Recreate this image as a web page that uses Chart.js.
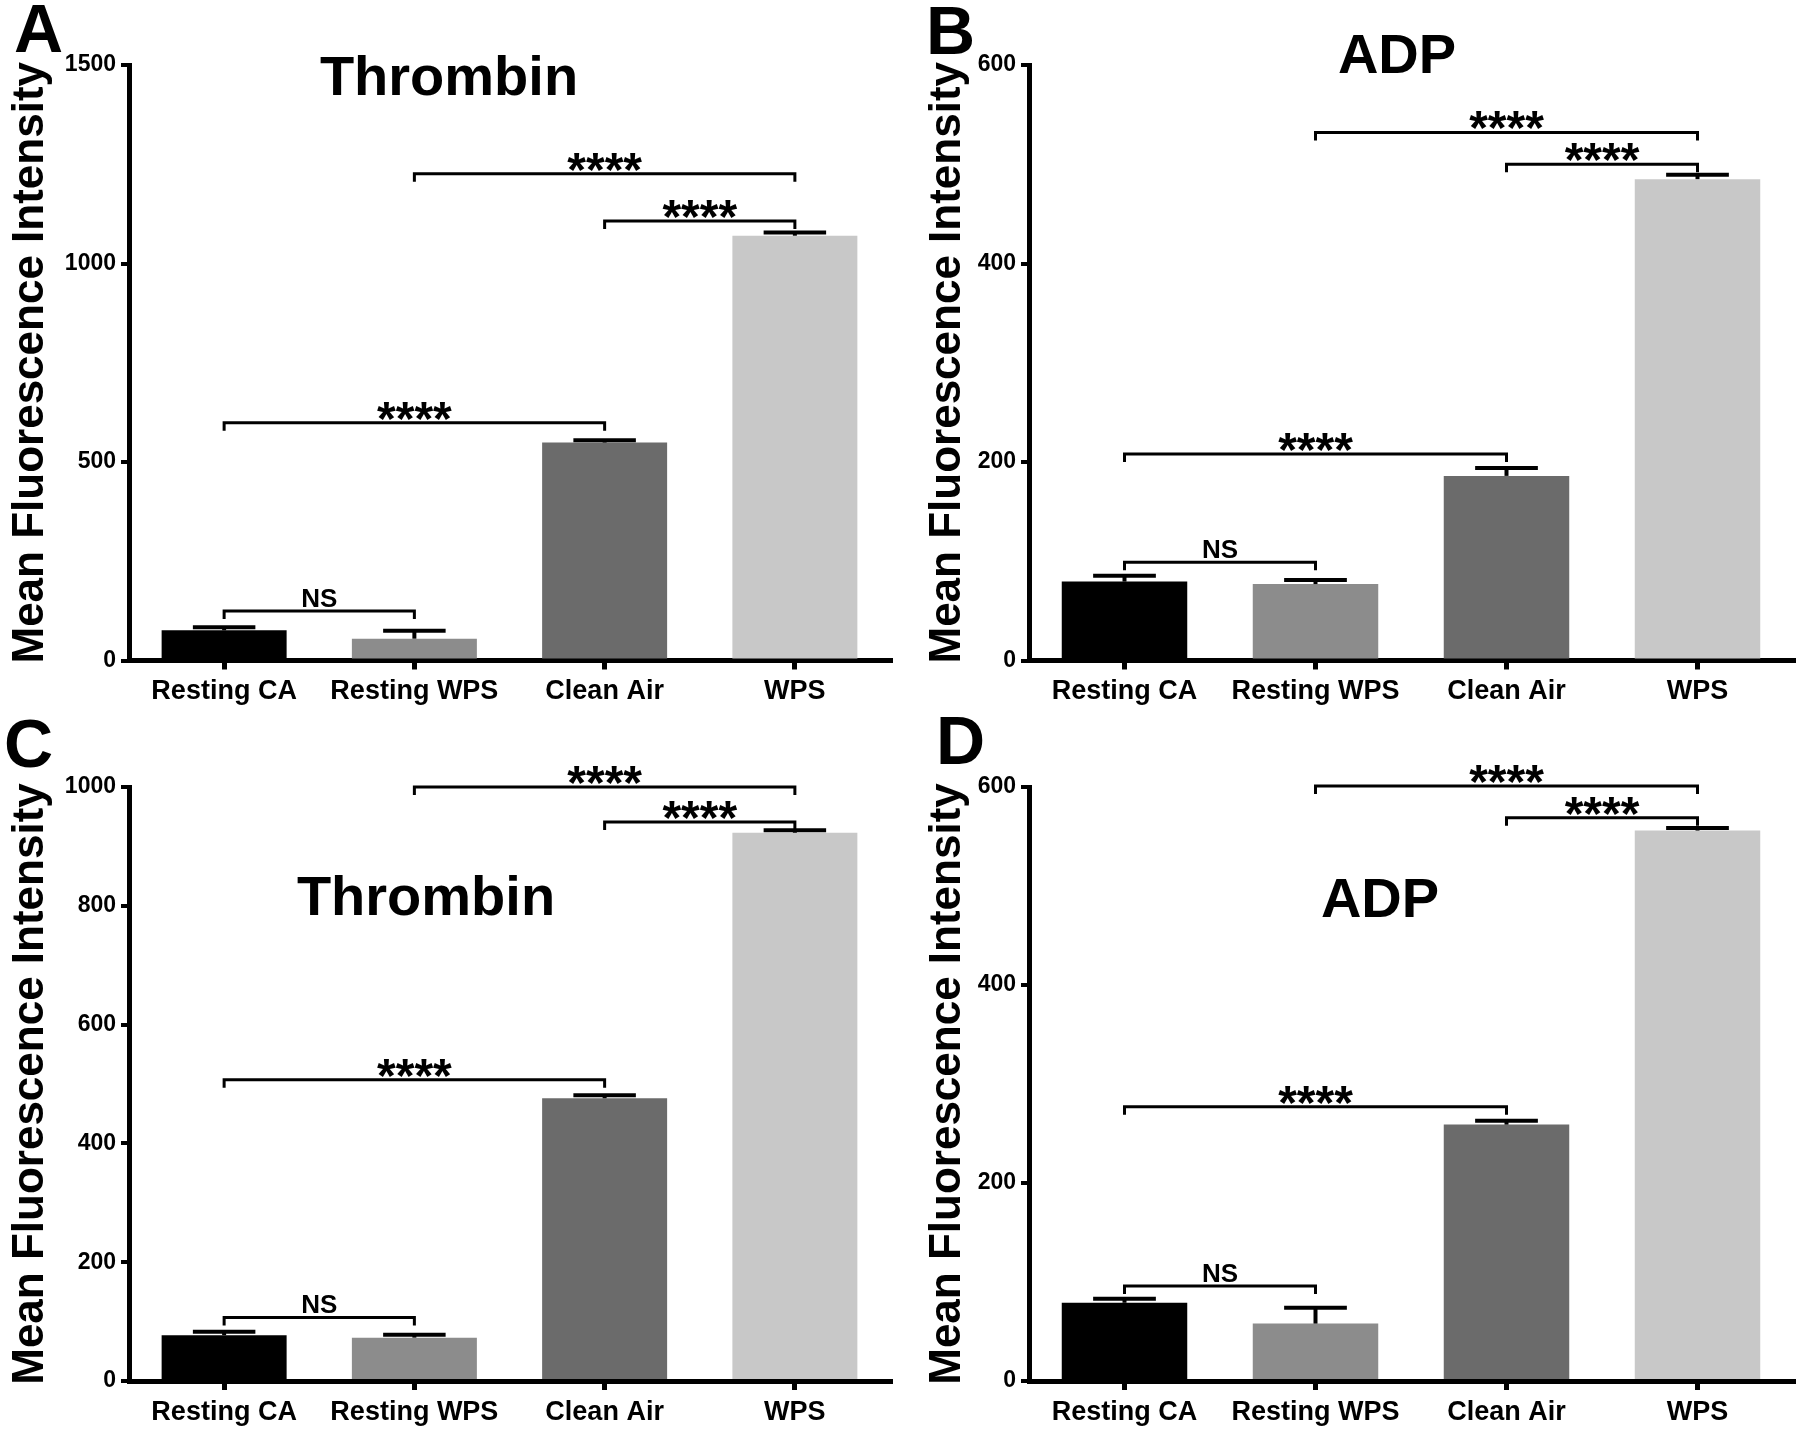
<!DOCTYPE html>
<html>
<head>
<meta charset="utf-8">
<script src="https://cdn.jsdelivr.net/npm/chart.js@4/dist/chart.umd.min.js"></script>
<style>
  html, body { margin: 0; padding: 0; background: #fff; }
  #wrap { position: relative; width: 1800px; height: 1432px; }
  .panel { position: absolute; width: 900px; height: 716px; }
</style>
</head>
<body>
<div id="wrap">
  <div class="panel" style="left:0;top:0"><canvas id="pA" width="900" height="716"></canvas></div>
  <div class="panel" style="left:900px;top:0"><canvas id="pB" width="900" height="716"></canvas></div>
  <div class="panel" style="left:0;top:716px"><canvas id="pC" width="900" height="716"></canvas></div>
  <div class="panel" style="left:900px;top:716px"><canvas id="pD" width="900" height="716"></canvas></div>
</div>
<script>
// groups on the x axis
const groups = ["Resting CA", "Resting WPS", "Clean Air", "WPS"]
const barColors = ["#000000", "#8c8c8c", "#6b6b6b", "#c8c8c8"]

// A - Thrombin
const meanA = [76, 55, 549, 1070]
const capA = [84, 75, 555, 1078]
const bracketsA = [[0, 1, 125, "NS"], [0, 2, 599, "****"], [2, 3, 1107, "****"], [1, 3, 1226, "****"]]

// B - ADP
const meanB = [79.5, 77, 186, 485]
const capB = [85.5, 81, 194, 489.5]
const bracketsB = [[0, 1, 99, "NS"], [0, 2, 208, "****"], [2, 3, 500, "****"], [1, 3, 532, "****"]]

// C - Thrombin
const meanC = [77, 73, 476, 923]
const capC = [83, 78, 481, 927]
const bracketsC = [[0, 1, 107, "NS"], [0, 2, 507, "****"], [2, 3, 941, "****"], [1, 3, 1000, "****"]]

// D - ADP
const meanD = [79, 58, 259, 556]
const capD = [83, 74, 263, 558.5]
const bracketsD = [[0, 1, 96, "NS"], [0, 2, 277, "****"], [2, 3, 569, "****"], [1, 3, 601, "****"]]

const FONT = "'Liberation Sans', Arial, sans-serif"

const marks = {
  id: "marks",
  afterDatasetsDraw(chart, args, opts) {
    const { ctx } = chart
    const x = chart.scales.x
    const y = chart.scales.y
    const meta = chart.getDatasetMeta(0)
    ctx.save()
    ctx.strokeStyle = "#000"
    ctx.fillStyle = "#000"

    // error bars (upper only)
    opts.caps.forEach((c, i) => {
      const bar = meta.data[i]
      const cx = bar.x
      const half = bar.width / 4
      const top = y.getPixelForValue(c)
      ctx.lineWidth = 4
      ctx.beginPath()
      ctx.moveTo(cx, bar.y)
      ctx.lineTo(cx, top)
      ctx.stroke()
      ctx.beginPath()
      ctx.moveTo(cx - half, top)
      ctx.lineTo(cx + half, top)
      ctx.stroke()
    })

    // significance brackets
    opts.brackets.forEach(([a, b, v, label]) => {
      const x1 = x.getPixelForValue(a)
      const x2 = x.getPixelForValue(b)
      const py = y.getPixelForValue(v)
      ctx.lineWidth = 3
      ctx.beginPath()
      ctx.moveTo(x1, py + 8)
      ctx.lineTo(x1, py)
      ctx.lineTo(x2, py)
      ctx.lineTo(x2, py + 8)
      ctx.stroke()
      ctx.textAlign = "center"
      ctx.textBaseline = "alphabetic"
      if (label === "NS") {
        ctx.font = "bold 26px " + FONT
        ctx.fillText(label, (x1 + x2) / 2, py - 4)
      } else {
        ctx.font = "bold 48px " + FONT
        ctx.fillText(label, (x1 + x2) / 2, py + 12)
      }
    })

    // panel title and letter
    ctx.textAlign = "center"
    ctx.font = "bold 56px " + FONT
    ctx.fillText(opts.title, opts.titleX, opts.titleY)
    ctx.textAlign = "left"
    ctx.font = "bold 68px " + FONT
    ctx.fillText(opts.letter, opts.letterX, opts.letterY)
    ctx.restore()
  }
}

function makePanel(id, means, caps, brackets, yMax, step, title, titleX, titleY, letter, letterX, letterY, top, bottom, right, titlePad) {
  return new Chart(document.getElementById(id), {
    type: "bar",
    data: {
      labels: groups,
      datasets: [{
        data: means,
        backgroundColor: barColors,
        borderWidth: 0,
        categoryPercentage: 1,
        barPercentage: 0.657
      }]
    },
    options: {
      responsive: false,
      animation: false,
      devicePixelRatio: 1,
      layout: { padding: { top: top, right: 900 - right, bottom: 0, left: 0 } },
      scales: {
        x: {
          grid: { drawOnChartArea: false, offset: false, tickLength: 9, lineWidth: 5, color: "#000" },
          border: { width: 5, color: "#000" },
          ticks: { color: "#000", padding: 6, font: { family: FONT, size: 27, weight: "bold" } },
          afterFit: (s) => { s.height = 716 - bottom }
        },
        y: {
          min: 0,
          max: yMax,
          ticks: {
            stepSize: step,
            color: "#000",
            padding: 5,
            font: { family: FONT, size: 23, weight: "bold" },
            callback: (v) => String(v)
          },
          grid: { drawOnChartArea: false, tickLength: 8, lineWidth: 4, color: "#000" },
          border: { width: 5, color: "#000" },
          title: {
            display: true,
            text: "Mean Fluorescence Intensity",
            color: "#000",
            padding: { top: titlePad, bottom: 0 },
            font: { family: FONT, size: 44, weight: "bold", lineHeight: 1 }
          },
          afterFit: (s) => { s.width = 129 }
        }
      },
      plugins: {
        legend: { display: false },
        tooltip: { enabled: false },
        marks: { caps, brackets, title, titleX, titleY, letter, letterX, letterY }
      }
    },
    plugins: [marks]
  })
}

makePanel("pA", meanA, capA, bracketsA, 1500, 500, "Thrombin", 449, 95, "A", 14, 52, 65, 660.5, 890, 9)
makePanel("pB", meanB, capB, bracketsB, 600, 200, "ADP", 497, 73, "B", 26, 54, 65, 660.5, 893, 26)
makePanel("pC", meanC, capC, bracketsC, 1000, 200, "Thrombin", 426, 199, "C", 4, 51, 71, 665, 890, 9)
makePanel("pD", meanD, capD, bracketsD, 600, 200, "ADP", 480, 201, "D", 36, 48, 71, 665, 893, 26)
</script>
</body>
</html>
